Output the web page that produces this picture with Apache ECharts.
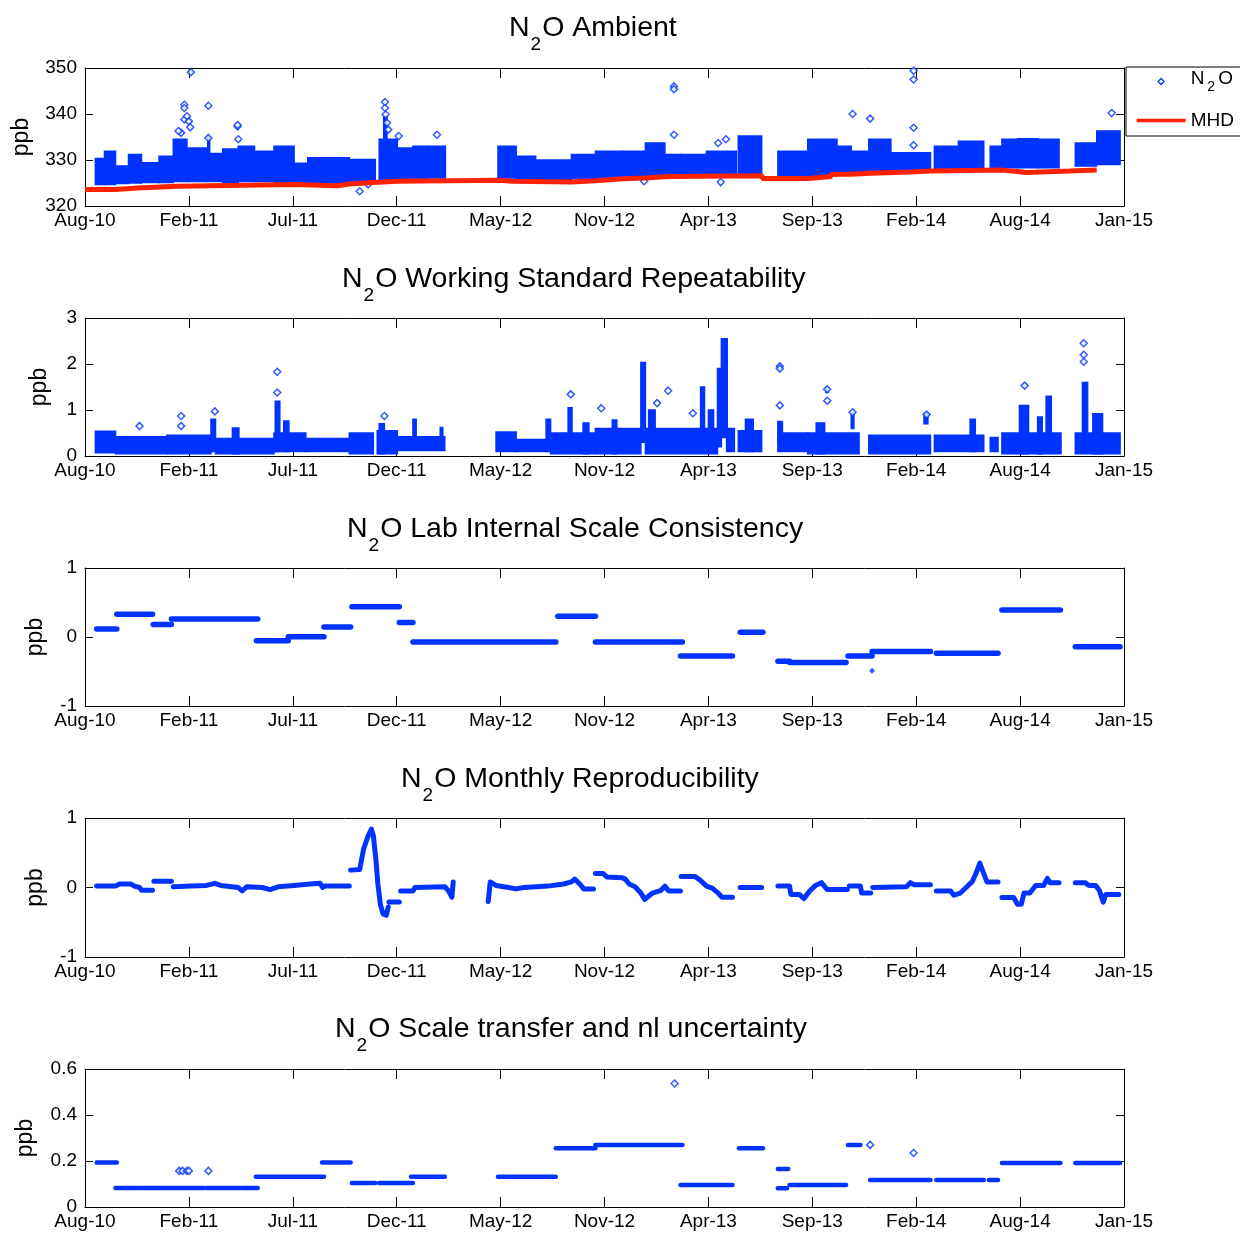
<!DOCTYPE html>
<html>
<head>
<meta charset="utf-8">
<script src="https://cdn.jsdelivr.net/npm/echarts@6/dist/echarts.min.js"></script>
<style>
html,body{margin:0;padding:0;background:#fff;}
#chart{width:1240px;height:1234px;}
</style>
</head>
<body>
<div id="chart"></div>
<script>
// ---------- tick labels ----------
const tickLabels = ['Aug-10','Feb-11','Jul-11','Dec-11','May-12','Nov-12','Apr-13','Sep-13','Feb-14','Aug-14','Jan-15'];

// ---------- panel 1: N2O ambient (range of measurements per period) ----------
const ambStart = ['2010-09-11','2010-09-25','2010-10-12','2010-11-01','2010-11-21','2010-12-18','2011-01-09','2011-01-30','2011-03-01','2011-03-26','2011-04-19','2011-05-14','2011-06-13','2011-07-14','2011-08-04','2011-09-07','2011-10-07','2011-11-22','2011-12-20','2012-01-13','2012-02-06','2012-05-23','2012-06-20','2012-07-20','2012-09-13','2012-10-20','2012-11-30','2013-01-05','2013-02-04','2013-02-28','2013-04-09','2013-05-28','2013-07-28','2013-09-12','2013-10-27','2013-11-18','2013-12-15','2014-01-18','2014-03-26','2014-05-02','2014-06-20','2014-07-08','2014-08-01','2014-09-01','2014-10-29','2014-12-01','2011-11-29','2011-03-03'];
const ambEnd = ['2010-09-25','2010-10-12','2010-11-01','2010-11-21','2010-12-18','2011-01-09','2011-01-30','2011-03-01','2011-03-26','2011-04-19','2011-05-14','2011-06-13','2011-07-14','2011-08-04','2011-09-07','2011-10-07','2011-11-16','2011-12-20','2012-01-13','2012-02-06','2012-03-03','2012-06-20','2012-07-20','2012-09-13','2012-10-20','2012-11-30','2013-01-05','2013-02-04','2013-02-28','2013-04-09','2013-05-25','2013-07-03','2013-09-12','2013-10-27','2013-11-18','2013-12-15','2014-01-18','2014-03-20','2014-05-02','2014-06-10','2014-07-08','2014-08-01','2014-09-01','2014-10-04','2014-12-01','2015-01-06','2011-12-04','2011-03-06'];
const ambLow = [324.7,324.7,324.9,325.0,325.1,325.1,325.3,325.3,325.3,325.1,325.3,325.3,325.1,324.9,324.9,325.0,325.1,325.8,325.8,325.8,326.1,326.1,325.8,325.8,326.0,326.1,326.5,326.5,326.6,326.6,326.6,326.8,326.4,326.5,326.9,327.2,327.2,327.6,327.8,327.8,328.0,328.3,328.3,328.3,328.7,329.0,327.0,326.0];
const ambHigh = [330.3,331.9,328.7,331.2,329.4,330.8,334.5,332.6,331.4,332.4,333.0,331.9,333.0,329.3,330.5,330.5,330.1,334.5,332.6,333.0,333.0,333.0,330.8,330.0,331.2,331.9,331.9,333.7,331.2,331.2,331.9,335.2,331.9,334.5,333.0,331.9,334.5,331.6,333.0,334.1,333.0,334.5,334.6,334.5,333.7,336.3,339.5,335.0];
const ambOutDates = ['2011-01-26','2011-01-26','2011-01-26','2011-01-30','2011-02-02','2011-02-04','2011-01-21','2011-01-17','2011-02-05','2011-03-04','2011-03-04','2011-04-18','2011-04-18','2011-04-19','2011-12-01','2011-12-01','2011-12-02','2011-12-04','2011-12-06','2011-12-22','2012-02-19','2011-10-23','2011-11-05','2013-02-18','2013-02-18','2013-02-18','2013-04-27','2013-05-09','2013-11-20','2013-12-17','2014-02-22','2014-02-22','2014-02-22','2014-02-22','2014-12-24','2013-01-03','2013-05-01'];
const ambOutValues = [342.0,341.3,338.8,339.5,338.4,337.1,335.9,336.3,349.1,341.8,334.8,337.3,337.6,334.5,342.6,341.3,339.9,338.1,336.6,335.2,335.5,323.2,324.7,346.0,345.4,335.5,333.7,334.5,340.0,339.0,349.4,347.5,337.0,333.2,340.2,325.4,325.2];
const mhdDates = ['2010-08-26','2010-10-12','2010-11-15','2011-01-15','2011-07-14','2011-09-19','2011-10-07','2011-11-13','2011-12-20','2012-05-26','2012-06-14','2012-09-13','2012-10-20','2012-12-01','2013-01-05','2013-02-10','2013-07-04','2013-09-13','2013-10-18','2013-11-18','2013-12-18','2014-02-17','2014-03-20','2014-07-08','2014-08-01','2014-08-14','2014-10-20','2014-12-01'];
const mhdValues = [323.6,323.9,324.3,324.7,324.4,324.8,325.1,325.4,325.6,325.4,325.2,325.5,325.9,326.1,326.4,326.6,326.0,326.4,326.9,327.1,327.4,327.6,327.8,327.5,327.3,327.6,327.8,327.8];

// ---------- panel 2: working standard repeatability (base ranges and spike columns) ----------
const repStart = ['2010-09-11','2010-10-12','2010-12-30','2011-03-08','2011-03-15','2011-04-10','2011-06-13','2011-06-15','2011-06-28','2011-08-01','2011-10-07','2011-11-19','2011-11-22','2011-12-20','2012-01-13','2012-02-24','2012-05-20','2012-06-20','2012-08-05','2012-08-12','2012-09-08','2012-10-01','2012-10-20','2012-11-15','2012-12-29','2013-01-05','2013-01-10','2013-03-31','2013-04-12','2013-04-26','2013-05-02','2013-05-10','2013-05-28','2013-06-08','2013-07-28','2013-07-28','2013-07-29','2013-09-12','2013-09-25','2013-10-10','2013-11-18','2013-12-15','2014-03-10','2014-03-26','2014-05-20','2014-06-20','2014-07-08','2014-08-04','2014-09-01','2014-09-14','2014-10-29','2014-11-09','2014-11-25'];
const repEnd = ['2010-10-12','2010-12-30','2011-03-08','2011-03-15','2011-06-13','2011-04-20','2011-08-01','2011-06-22','2011-07-06','2011-10-07','2011-11-13','2011-12-20','2011-11-30','2012-03-02','2012-01-18','2012-02-28','2012-06-20','2012-08-05','2012-08-12','2012-10-20','2012-09-14','2012-10-10','2012-12-29','2012-11-22','2013-01-05','2013-04-26','2013-01-20','2013-04-06','2013-04-20','2013-05-02','2013-05-11','2013-05-22','2013-07-03','2013-06-20','2013-09-12','2013-08-04','2013-08-02','2013-11-30','2013-10-08','2013-10-13','2013-11-22','2014-03-20','2014-03-16','2014-06-10','2014-05-28','2014-07-02','2014-10-07','2014-08-18','2014-09-08','2014-09-22','2015-01-06','2014-11-17','2014-12-10'];
const repLow = [0.07,0.05,0.05,0.10,0.05,0.05,0.10,0.10,0.10,0.10,0.05,0.05,0.05,0.12,0.20,0.20,0.10,0.10,0.10,0.05,0.50,0.05,0.05,0.05,0.30,0.05,0.10,0.10,0.10,0.20,0.40,0.10,0.10,0.10,0.10,0.30,1.88,0.05,0.05,1.38,0.60,0.05,0.70,0.10,0.10,0.10,0.05,0.05,0.05,0.50,0.05,0.50,0.05];
const repHigh = [0.54,0.42,0.45,0.80,0.38,0.61,0.50,1.19,0.76,0.38,0.50,0.55,0.70,0.42,0.80,0.62,0.52,0.36,0.80,0.50,1.05,0.72,0.60,0.78,2.03,0.60,1.00,1.50,1.00,1.90,2.55,0.60,0.55,0.80,0.50,0.75,1.98,0.50,0.72,1.48,0.95,0.45,0.92,0.45,0.80,0.40,0.50,1.10,0.85,1.30,0.50,1.60,0.92];
const repOutDates = ['2010-11-18','2011-01-21','2011-01-21','2011-03-14','2011-06-18','2011-06-18','2011-11-30','2012-09-12','2012-10-29','2013-01-23','2013-02-09','2013-03-19','2013-07-31','2013-07-31','2013-07-31','2013-10-12','2013-10-12','2013-11-20','2014-03-14','2014-08-12','2014-11-11','2014-11-11','2014-11-11'];
const repOutValues = [0.65,0.87,0.65,0.97,1.83,1.38,0.87,1.34,1.04,1.15,1.42,0.93,1.95,1.90,1.10,1.45,1.20,0.95,0.90,1.53,2.45,2.20,2.05];

// ---------- panel 3: lab internal scale consistency ----------
const labStart = ['2010-09-13','2010-10-14','2010-12-09','2011-01-06','2011-05-17','2011-07-05','2011-08-29','2011-10-11','2011-12-23','2012-01-13','2012-08-23','2012-10-20','2013-02-28','2013-05-31','2013-07-28','2013-08-15','2013-11-13','2013-12-20','2014-03-29','2014-07-08','2014-10-29'];
const labEnd = ['2010-10-14','2010-12-08','2011-01-06','2011-05-19','2011-07-05','2011-08-29','2011-10-09','2011-12-23','2012-01-13','2012-08-20','2012-10-20','2013-03-03','2013-05-19','2013-07-05','2013-08-15','2013-11-10','2013-12-20','2014-03-20','2014-07-02','2014-10-06','2015-01-06'];
const labValue = [0.116,0.33,0.18,0.26,-0.053,0.005,0.145,0.44,0.21,-0.072,0.30,-0.072,-0.275,0.068,-0.35,-0.37,-0.275,-0.21,-0.235,0.39,-0.14];
const labPointDates = ['2013-12-20'];
const labPointValues = [-0.49];

// ---------- panel 4: monthly reproducibility (null = gap) ----------
const monthDates = ['2010-09-13','2010-10-12','2010-10-18','2010-11-05','2010-11-10','2010-11-18','2010-11-21','2010-12-08',null,
'2010-12-10','2011-01-06',null,
'2011-01-09','2011-02-05','2011-03-01','2011-03-14','2011-03-23','2011-04-19','2011-04-25','2011-05-02','2011-05-26','2011-06-07','2011-06-19','2011-07-14','2011-08-07','2011-08-23','2011-08-27',null,
'2011-08-30','2011-10-07',null,
'2011-10-09','2011-10-23','2011-10-29','2011-11-04','2011-11-10','2011-11-13','2011-11-17','2011-11-20','2011-11-24','2011-11-28','2011-12-03','2011-12-06',null,
'2011-12-07','2011-12-23',null,
'2011-12-25','2012-01-13','2012-01-16','2012-03-02','2012-03-08','2012-03-13','2012-03-15',null,
'2012-05-08','2012-05-11','2012-05-20','2012-06-08','2012-06-20','2012-07-02','2012-08-08','2012-09-01','2012-09-13','2012-09-18','2012-09-26','2012-10-02','2012-10-17',null,
'2012-10-20','2012-11-01','2012-11-07','2012-11-30','2012-12-05','2012-12-11','2012-12-20','2012-12-29','2013-01-04','2013-01-16','2013-01-29','2013-02-04','2013-02-10','2013-02-28',null,
'2013-03-01','2013-03-22','2013-03-31','2013-04-09','2013-04-18','2013-04-27','2013-05-03','2013-05-19',null,
'2013-05-31','2013-07-03',null,
'2013-07-28','2013-08-15','2013-08-17','2013-08-30','2013-09-06','2013-09-15','2013-09-24','2013-10-03','2013-10-12','2013-11-12',null,
'2013-11-15','2013-12-02','2013-12-04','2013-12-18',null,
'2013-12-21','2014-02-11','2014-02-17','2014-02-23','2014-03-20',null,
'2014-03-29','2014-04-20','2014-04-25','2014-05-05','2014-05-17','2014-05-23','2014-05-29','2014-06-04','2014-06-10','2014-06-15','2014-07-02',null,
'2014-07-08','2014-07-26','2014-08-01','2014-08-07','2014-08-11','2014-08-20','2014-08-29','2014-09-10','2014-09-16','2014-09-20','2014-10-04',null,
'2014-10-29','2014-11-13','2014-11-19','2014-11-29','2014-12-05','2014-12-11','2014-12-15','2015-01-04'];
const monthValues = [0.02,0.02,0.05,0.05,0.02,0.0,-0.04,-0.04,null,
0.09,0.09,null,
0.01,0.02,0.03,0.06,0.03,0.0,-0.05,0.01,0.0,-0.03,0.01,0.03,0.05,0.06,0.0,null,
0.02,0.02,null,
0.25,0.26,0.55,0.72,0.84,0.75,0.40,0.05,-0.25,-0.38,-0.40,-0.28,null,
-0.21,-0.21,null,
-0.05,-0.05,0.0,0.01,-0.05,-0.14,0.08,null,
-0.20,0.08,0.03,0.0,-0.02,0.0,0.02,0.05,0.08,0.12,0.05,-0.02,-0.02,null,
0.20,0.20,0.15,0.14,0.12,0.05,0.01,-0.08,-0.17,-0.08,-0.04,0.02,-0.05,-0.05,null,
0.16,0.16,0.10,0.02,-0.01,-0.08,-0.14,-0.14,null,
0.0,0.0,null,
0.02,0.02,-0.10,-0.10,-0.16,-0.05,0.03,0.07,-0.03,-0.03,null,
0.02,0.02,-0.08,-0.08,null,
0.0,0.01,0.07,0.04,0.04,null,
-0.05,-0.05,-0.11,-0.08,0.03,0.08,0.20,0.35,0.20,0.08,0.08,null,
-0.145,-0.145,-0.24,-0.24,-0.08,-0.08,0.03,0.03,0.13,0.07,0.07,null,
0.07,0.07,0.03,0.03,-0.04,-0.21,-0.10,-0.10];

// ---------- panel 5: scale transfer and nl uncertainty ----------
const scaleStart = ['2010-09-13','2010-10-12','2010-11-22','2010-12-19','2011-03-01','2011-04-24','2011-05-16','2011-08-26','2011-10-11','2011-11-22','2012-01-10','2012-02-13','2012-05-23','2012-08-20','2012-10-20','2013-02-28','2013-05-29','2013-07-28','2013-07-28','2013-08-15','2013-11-13','2013-12-17','2014-03-29','2014-06-18','2014-07-08','2014-10-29'];
const scaleEnd = ['2010-10-14','2010-11-20','2010-12-18','2011-02-26','2011-04-22','2011-05-19','2011-08-29','2011-10-09','2011-11-16','2012-01-13','2012-02-10','2012-03-02','2012-08-20','2012-10-20','2013-03-03','2013-05-19','2013-07-05','2013-08-13','2013-08-11','2013-11-10','2013-12-02','2014-03-20','2014-06-10','2014-07-02','2014-10-06','2015-01-06'];
const scaleValue = [0.194,0.083,0.083,0.083,0.083,0.083,0.132,0.194,0.104,0.104,0.132,0.132,0.132,0.255,0.27,0.096,0.255,0.165,0.082,0.096,0.27,0.117,0.117,0.117,0.191,0.191];
const scaleOutDates = ['2011-01-18','2011-01-23','2011-01-30','2011-02-02','2011-03-04','2013-02-19','2013-12-17','2014-02-22'];
const scaleOutValues = [0.157,0.157,0.157,0.157,0.157,0.537,0.27,0.235];

// ---------- helpers ----------
const BLUE = '#0033ff';
const RED = '#ff2200';
const FONT = "'Liberation Sans', Arial, Helvetica, sans-serif";
const START = Date.UTC(2010, 7, 26);
function day(s) { const p = s.split('-').map(Number); return (Date.UTC(p[0], p[1] - 1, p[2]) - START) / 86400000; }

function bandItem(params, api) {
  const p0 = api.coord([api.value(0), api.value(3)]);
  const p1 = api.coord([api.value(1), api.value(2)]);
  return { type: 'rect', shape: { x: p0[0], y: p0[1], width: Math.max(p1[0] - p0[0], 1), height: p1[1] - p0[1] },
    style: { fill: BLUE, stroke: BLUE, lineWidth: 1.5 } };
}
function segItem(lw) {
  return function (params, api) {
    const a = api.coord([api.value(0), api.value(2)]);
    const b = api.coord([api.value(1), api.value(2)]);
    return { type: 'line', shape: { x1: a[0], y1: a[1], x2: b[0], y2: b[1] },
      style: { stroke: BLUE, lineWidth: lw, lineCap: 'round' } };
  };
}

const gridTops = [68, 318, 568, 818, 1069];
const gridHeights = [138, 138, 138, 139, 138];
const yRanges = [[320, 350, 10], [0, 3, 1], [-1, 1, 1], [-1, 1, 1], [0, 0.6, 0.2]];
const nameGaps = [52, 34, 38, 38, 48];
const titleRest = ['O Ambient', 'O Working Standard Repeatability', 'O Lab Internal Scale Consistency', 'O Monthly Reproducibility', 'O Scale transfer and nl uncertainty'];
const titleLeft = [509, 342, 347, 401, 335];
const titleCenterY = [27, 278, 528, 778, 1028];

const grids = [], xAxes = [], yAxes = [], titles = [];
const lineStyleAxis = { color: '#000', width: 1 };
for (let i = 0; i < 5; i++) {
  grids.push({ left: 85, right: 116, top: gridTops[i], height: gridHeights[i], show: false, containLabel: false, outerBoundsMode: 'none' });
  const xBase = { type: 'value', gridIndex: i, min: 0, max: 1600, interval: 160, splitLine: { show: false },
    axisLine: { show: true, onZero: false, lineStyle: lineStyleAxis },
    axisTick: { show: true, inside: true, length: 10, lineStyle: lineStyleAxis } };
  xAxes.push(Object.assign({}, xBase, { position: 'bottom',
    axisLabel: { show: true, margin: 5, fontSize: 19, fontFamily: FONT, color: '#000', hideOverlap: false,
      formatter: v => tickLabels[Math.round(v / 160)] || '' } }));
  xAxes.push(Object.assign({}, xBase, { position: 'top', axisLabel: { show: false } }));
  const r = yRanges[i];
  const yBase = { type: 'value', gridIndex: i, min: r[0], max: r[1], interval: r[2], splitLine: { show: false },
    axisLine: { show: true, onZero: false, lineStyle: lineStyleAxis },
    axisTick: { show: true, inside: true, length: 8, lineStyle: lineStyleAxis } };
  yAxes.push(Object.assign({}, yBase, { position: 'left', name: 'ppb', nameLocation: 'middle', nameGap: nameGaps[i],
    nameTextStyle: { fontSize: 23, fontFamily: FONT, color: '#000' },
    axisLabel: { show: true, margin: 8, fontSize: 19, fontFamily: FONT, color: '#000',
      formatter: v => String(Math.round(v * 10) / 10) } }));
  yAxes.push(Object.assign({}, yBase, { position: 'right', axisLabel: { show: false } }));
  titles.push({ left: titleLeft[i], top: titleCenterY[i] - 13, padding: 0,
    text: '{n|N}{s|2}{n|' + titleRest[i] + '}',
    textStyle: { fontWeight: 'normal', rich: {
      n: { fontSize: 28.5, fontWeight: 'normal', fontFamily: FONT, color: '#000', verticalAlign: 'top' },
      s: { fontSize: 19, fontWeight: 'normal', fontFamily: FONT, color: '#000', verticalAlign: 'top', padding: [21, 1, 0, 1] }
    } } });
}

const outSym = { color: '#ffffff', borderColor: BLUE, borderWidth: 1.5 };

const series = [
  { type: 'custom', name: 'N2O', xAxisIndex: 0, yAxisIndex: 0, renderItem: bandItem, clip: true,
    encode: { x: [0, 1], y: [2, 3] }, z: 2,
    data: ambStart.map((s, i) => [day(s), day(ambEnd[i]), ambLow[i], ambHigh[i]]) },
  { type: 'scatter', name: 'N2O', xAxisIndex: 0, yAxisIndex: 0, symbol: 'diamond', symbolSize: 7, itemStyle: outSym, z: 3,
    data: ambOutDates.map((d, i) => [day(d), ambOutValues[i]]) },
  { type: 'line', name: 'MHD', xAxisIndex: 0, yAxisIndex: 0, step: 'end', symbol: 'none', showSymbol: false, z: 5,
    lineStyle: { color: RED, width: 5 }, itemStyle: { color: RED },
    data: mhdDates.map((d, i) => [day(d), mhdValues[i]]) },

  { type: 'custom', name: 'Repeatability', xAxisIndex: 2, yAxisIndex: 2, renderItem: bandItem, clip: true,
    encode: { x: [0, 1], y: [2, 3] },
    data: repStart.map((s, i) => [day(s), day(repEnd[i]), repLow[i], repHigh[i]]) },
  { type: 'scatter', name: 'Repeatability outliers', xAxisIndex: 2, yAxisIndex: 2, symbol: 'diamond', symbolSize: 7, itemStyle: outSym,
    data: repOutDates.map((d, i) => [day(d), repOutValues[i]]) },

  { type: 'custom', name: 'Lab consistency', xAxisIndex: 4, yAxisIndex: 4, renderItem: segItem(5.5), clip: true,
    encode: { x: [0, 1], y: 2 },
    data: labStart.map((s, i) => [day(s), day(labEnd[i]), labValue[i]]) },
  { type: 'scatter', name: 'Lab point', xAxisIndex: 4, yAxisIndex: 4, symbol: 'diamond', symbolSize: 6, itemStyle: { color: BLUE },
    data: labPointDates.map((d, i) => [day(d), labPointValues[i]]) },

  { type: 'line', name: 'Monthly reproducibility', xAxisIndex: 6, yAxisIndex: 6, symbol: 'none', connectNulls: false,
    lineStyle: { color: BLUE, width: 5, cap: 'round', join: 'round' },
    data: monthDates.map((d, i) => d === null ? [day(monthDates[i - 1]) + 1, null] : [day(d), monthValues[i]]) },

  { type: 'custom', name: 'Scale transfer', xAxisIndex: 8, yAxisIndex: 8, renderItem: segItem(4.5), clip: true,
    encode: { x: [0, 1], y: 2 },
    data: scaleStart.map((s, i) => [day(s), day(scaleEnd[i]), scaleValue[i]]) },
  { type: 'scatter', name: 'Scale outliers', xAxisIndex: 8, yAxisIndex: 8, symbol: 'diamond', symbolSize: 7, itemStyle: outSym,
    data: scaleOutDates.map((d, i) => [day(d), scaleOutValues[i]]) }
];

const chart = echarts.init(document.getElementById('chart'), null, { renderer: 'canvas' });
chart.setOption({
  backgroundColor: '#ffffff',
  animation: false,
  title: titles,
  grid: grids,
  xAxis: xAxes,
  yAxis: yAxes,
  legend: {
    orient: 'vertical', left: 1126, top: 67, padding: [2, 30, 6, 10], itemGap: 17,
    itemWidth: 49, itemHeight: 7, borderColor: '#000', borderWidth: 1, borderRadius: 0,
    selectedMode: false,
    textStyle: { fontSize: 19, fontFamily: FONT, color: '#000',
      rich: {
        a: { fontSize: 19, fontFamily: FONT, color: '#000', verticalAlign: 'top' },
        b: { fontSize: 14, fontFamily: FONT, color: '#000', verticalAlign: 'top', padding: [11, 3, 0, 3] }
      } },
    data: [
      { name: 'N2O', icon: 'path://M0,3.5L0.01,3.5M24.5,0.5L27.5,3.5L24.5,6.5L21.5,3.5ZM48.99,3.5L49,3.5',
        itemStyle: { color: '#ffffff', borderColor: BLUE, borderWidth: 1.3 } },
      { name: 'MHD', icon: 'path://M0,0L0.01,0M0,1.75L49,1.75L49,5.25L0,5.25ZM0,7L0.01,7',
        itemStyle: { color: RED, borderWidth: 0 } }
    ],
    formatter: name => name === 'N2O' ? '{a|N}{b|2}{a|O}' : '{a|MHD}'
  },
  series: series
});
</script>
</body>
</html>
